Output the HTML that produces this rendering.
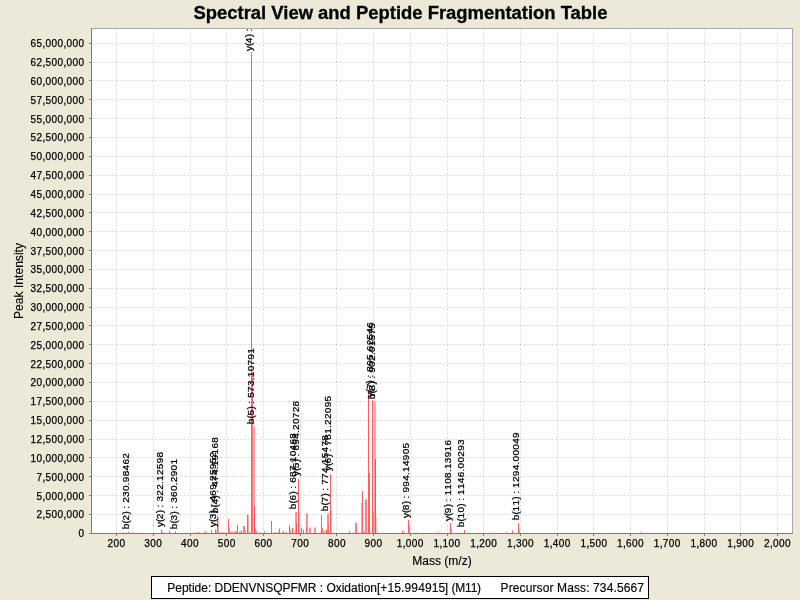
<!DOCTYPE html>
<html lang="en"><head><meta charset="utf-8"><title>Spectral View and Peptide Fragmentation Table</title>
<style>
html,body{margin:0;padding:0;background:#ece9d8;overflow:hidden}
svg{display:block;font-family:"Liberation Sans",Arial,sans-serif;fill:#000}
.t{font-size:10px;stroke:#000;stroke-width:.25px}.ax{font-size:12px;stroke:#000;stroke-width:.15px}.ttl{font-size:18px;font-weight:bold;stroke:#000;stroke-width:.3px}
.g{stroke:#c0c0c0;stroke-width:0.6;stroke-dasharray:2 2;fill:none}
.tk{stroke:#7f7f7f;stroke-width:1;shape-rendering:crispEdges}
.pk rect{fill:#ff0000}
</style></head><body>
<svg width="800" height="600" viewBox="0 0 800 600">
<rect x="0" y="0" width="800" height="600" fill="#ece9d8"/>
<text class="ttl" x="193.5" y="18.5" textLength="414" lengthAdjust="spacingAndGlyphs">Spectral View and Peptide Fragmentation Table</text>
<rect x="91" y="28" width="702" height="506" fill="#ffffff"/>
<g class="g">
<line x1="116.5" y1="28.5" x2="116.5" y2="533"/>
<line x1="153.5" y1="28.5" x2="153.5" y2="533"/>
<line x1="190.5" y1="28.5" x2="190.5" y2="533"/>
<line x1="226.5" y1="28.5" x2="226.5" y2="533"/>
<line x1="263.5" y1="28.5" x2="263.5" y2="533"/>
<line x1="300.5" y1="28.5" x2="300.5" y2="533"/>
<line x1="336.5" y1="28.5" x2="336.5" y2="533"/>
<line x1="373.5" y1="28.5" x2="373.5" y2="533"/>
<line x1="410.5" y1="28.5" x2="410.5" y2="533"/>
<line x1="447.5" y1="28.5" x2="447.5" y2="533"/>
<line x1="483.5" y1="28.5" x2="483.5" y2="533"/>
<line x1="520.5" y1="28.5" x2="520.5" y2="533"/>
<line x1="557.5" y1="28.5" x2="557.5" y2="533"/>
<line x1="593.5" y1="28.5" x2="593.5" y2="533"/>
<line x1="630.5" y1="28.5" x2="630.5" y2="533"/>
<line x1="667.5" y1="28.5" x2="667.5" y2="533"/>
<line x1="704.5" y1="28.5" x2="704.5" y2="533"/>
<line x1="740.5" y1="28.5" x2="740.5" y2="533"/>
<line x1="777.5" y1="28.5" x2="777.5" y2="533"/>
<line x1="91.5" y1="514.5" x2="792" y2="514.5"/>
<line x1="91.5" y1="495.5" x2="792" y2="495.5"/>
<line x1="91.5" y1="476.5" x2="792" y2="476.5"/>
<line x1="91.5" y1="457.5" x2="792" y2="457.5"/>
<line x1="91.5" y1="439.5" x2="792" y2="439.5"/>
<line x1="91.5" y1="420.5" x2="792" y2="420.5"/>
<line x1="91.5" y1="401.5" x2="792" y2="401.5"/>
<line x1="91.5" y1="382.5" x2="792" y2="382.5"/>
<line x1="91.5" y1="363.5" x2="792" y2="363.5"/>
<line x1="91.5" y1="344.5" x2="792" y2="344.5"/>
<line x1="91.5" y1="325.5" x2="792" y2="325.5"/>
<line x1="91.5" y1="307.5" x2="792" y2="307.5"/>
<line x1="91.5" y1="288.5" x2="792" y2="288.5"/>
<line x1="91.5" y1="269.5" x2="792" y2="269.5"/>
<line x1="91.5" y1="250.5" x2="792" y2="250.5"/>
<line x1="91.5" y1="231.5" x2="792" y2="231.5"/>
<line x1="91.5" y1="212.5" x2="792" y2="212.5"/>
<line x1="91.5" y1="194.5" x2="792" y2="194.5"/>
<line x1="91.5" y1="175.5" x2="792" y2="175.5"/>
<line x1="91.5" y1="156.5" x2="792" y2="156.5"/>
<line x1="91.5" y1="137.5" x2="792" y2="137.5"/>
<line x1="91.5" y1="118.5" x2="792" y2="118.5"/>
<line x1="91.5" y1="99.5" x2="792" y2="99.5"/>
<line x1="91.5" y1="80.5" x2="792" y2="80.5"/>
<line x1="91.5" y1="62.5" x2="792" y2="62.5"/>
<line x1="91.5" y1="43.5" x2="792" y2="43.5"/>
</g>
<g class="pk" shape-rendering="crispEdges">
<rect x="123" y="532" width="1" height="1" opacity="0.32"/>
<rect x="123" y="533" width="1" height="0" opacity="0.45"/>
<rect x="126" y="532" width="1" height="1" opacity="0.32"/>
<rect x="126" y="533" width="1" height="0" opacity="0.45"/>
<rect x="133" y="532" width="1" height="1" opacity="0.32"/>
<rect x="133" y="533" width="1" height="0" opacity="0.45"/>
<rect x="128" y="531" width="1" height="1" opacity="0.25"/>
<rect x="128" y="532" width="1" height="1" opacity="0.5"/>
<rect x="146" y="532" width="1" height="1" opacity="0.03"/>
<rect x="146" y="533" width="1" height="0" opacity="0.3"/>
<rect x="153" y="532" width="1" height="1" opacity="0.03"/>
<rect x="153" y="533" width="1" height="0" opacity="0.3"/>
<rect x="155" y="532" width="1" height="1" opacity="0.03"/>
<rect x="155" y="533" width="1" height="0" opacity="0.3"/>
<rect x="157" y="532" width="1" height="1" opacity="0.03"/>
<rect x="157" y="533" width="1" height="0" opacity="0.3"/>
<rect x="161" y="529" width="1" height="1" opacity="0.32"/>
<rect x="161" y="530" width="1" height="3" opacity="0.63"/>
<rect x="162" y="532" width="1" height="1" opacity="0.4"/>
<rect x="163" y="532" width="1" height="1" opacity="0.20"/>
<rect x="163" y="533" width="1" height="0" opacity="0.4"/>
<rect x="164" y="532" width="1" height="1" opacity="0.20"/>
<rect x="164" y="533" width="1" height="0" opacity="0.4"/>
<rect x="169" y="530" width="1" height="1" opacity="0.13"/>
<rect x="169" y="531" width="1" height="2" opacity="0.63"/>
<rect x="175" y="531" width="1" height="1" opacity="0.44"/>
<rect x="175" y="532" width="1" height="1" opacity="0.63"/>
<rect x="182" y="532" width="1" height="1" opacity="0.07"/>
<rect x="182" y="533" width="1" height="0" opacity="0.35"/>
<rect x="184" y="532" width="1" height="1" opacity="0.07"/>
<rect x="184" y="533" width="1" height="0" opacity="0.35"/>
<rect x="187" y="532" width="1" height="1" opacity="0.07"/>
<rect x="187" y="533" width="1" height="0" opacity="0.35"/>
<rect x="189" y="532" width="1" height="1" opacity="0.07"/>
<rect x="189" y="533" width="1" height="0" opacity="0.35"/>
<rect x="195" y="532" width="1" height="1" opacity="0.32"/>
<rect x="195" y="533" width="1" height="0" opacity="0.4"/>
<rect x="196" y="532" width="1" height="1" opacity="0.32"/>
<rect x="196" y="533" width="1" height="0" opacity="0.4"/>
<rect x="198" y="532" width="1" height="1" opacity="0.32"/>
<rect x="198" y="533" width="1" height="0" opacity="0.4"/>
<rect x="199" y="532" width="1" height="1" opacity="0.32"/>
<rect x="199" y="533" width="1" height="0" opacity="0.4"/>
<rect x="204" y="531" width="1" height="1" opacity="0.20"/>
<rect x="204" y="532" width="1" height="1" opacity="0.4"/>
<rect x="205" y="531" width="1" height="1" opacity="0.20"/>
<rect x="205" y="532" width="1" height="1" opacity="0.4"/>
<rect x="206" y="531" width="1" height="1" opacity="0.20"/>
<rect x="206" y="532" width="1" height="1" opacity="0.4"/>
<rect x="211" y="530" width="1" height="3" opacity="0.63"/>
<rect x="215" y="529" width="1" height="1" opacity="0.32"/>
<rect x="215" y="530" width="1" height="3" opacity="0.63"/>
<rect x="216" y="530" width="1" height="1" opacity="0.17"/>
<rect x="216" y="531" width="1" height="2" opacity="0.35"/>
<rect x="217" y="516" width="1" height="17" opacity="0.63"/>
<rect x="218" y="517" width="1" height="16" opacity="0.3"/>
<rect x="219" y="532" width="1" height="1" opacity="0.28"/>
<rect x="219" y="533" width="1" height="0" opacity="0.35"/>
<rect x="220" y="532" width="1" height="1" opacity="0.28"/>
<rect x="220" y="533" width="1" height="0" opacity="0.35"/>
<rect x="221" y="532" width="1" height="1" opacity="0.28"/>
<rect x="221" y="533" width="1" height="0" opacity="0.35"/>
<rect x="222" y="532" width="1" height="1" opacity="0.28"/>
<rect x="222" y="533" width="1" height="0" opacity="0.35"/>
<rect x="223" y="532" width="1" height="1" opacity="0.28"/>
<rect x="223" y="533" width="1" height="0" opacity="0.35"/>
<rect x="224" y="532" width="1" height="1" opacity="0.28"/>
<rect x="224" y="533" width="1" height="0" opacity="0.35"/>
<rect x="225" y="532" width="1" height="1" opacity="0.28"/>
<rect x="225" y="533" width="1" height="0" opacity="0.35"/>
<rect x="228" y="519" width="1" height="14" opacity="0.63"/>
<rect x="229" y="528" width="1" height="1" opacity="0.20"/>
<rect x="229" y="529" width="1" height="4" opacity="0.4"/>
<rect x="230" y="531" width="1" height="1" opacity="0.20"/>
<rect x="230" y="532" width="1" height="1" opacity="0.4"/>
<rect x="231" y="531" width="1" height="1" opacity="0.20"/>
<rect x="231" y="532" width="1" height="1" opacity="0.4"/>
<rect x="232" y="531" width="1" height="1" opacity="0.20"/>
<rect x="232" y="532" width="1" height="1" opacity="0.4"/>
<rect x="234" y="531" width="1" height="2" opacity="0.4"/>
<rect x="235" y="531" width="1" height="2" opacity="0.4"/>
<rect x="236" y="531" width="1" height="2" opacity="0.4"/>
<rect x="237" y="525" width="1" height="8" opacity="0.63"/>
<rect x="239" y="531" width="1" height="1" opacity="0.20"/>
<rect x="239" y="532" width="1" height="1" opacity="0.4"/>
<rect x="240" y="531" width="1" height="1" opacity="0.20"/>
<rect x="240" y="532" width="1" height="1" opacity="0.4"/>
<rect x="241" y="530" width="1" height="1" opacity="0.32"/>
<rect x="241" y="531" width="1" height="2" opacity="0.63"/>
<rect x="243" y="526" width="2" height="7" opacity="0.5"/>
<rect x="245" y="530" width="1" height="1" opacity="0.20"/>
<rect x="245" y="531" width="1" height="2" opacity="0.4"/>
<rect x="247" y="514" width="1" height="1" opacity="0.32"/>
<rect x="247" y="515" width="1" height="18" opacity="0.63"/>
<rect x="248" y="515" width="1" height="18" opacity="0.35"/>
<rect x="249" y="531" width="1" height="1" opacity="0.20"/>
<rect x="249" y="532" width="1" height="1" opacity="0.4"/>
<rect x="251" y="52" width="1" height="1" opacity="0.32"/>
<rect x="251" y="53" width="1" height="480" opacity="0.63"/>
<rect x="252" y="372" width="1" height="161" opacity="0.55"/>
<rect x="253" y="426" width="1" height="1" opacity="0.12"/>
<rect x="253" y="427" width="1" height="106" opacity="0.25"/>
<rect x="254" y="426" width="1" height="1" opacity="0.20"/>
<rect x="254" y="427" width="1" height="106" opacity="0.4"/>
<rect x="254" y="506" width="1" height="27" opacity="0.5"/>
<rect x="255" y="528" width="1" height="1" opacity="0.28"/>
<rect x="255" y="529" width="1" height="4" opacity="0.55"/>
<rect x="256" y="530" width="1" height="1" opacity="0.20"/>
<rect x="256" y="531" width="1" height="2" opacity="0.4"/>
<rect x="257" y="531" width="1" height="1" opacity="0.20"/>
<rect x="257" y="532" width="1" height="1" opacity="0.4"/>
<rect x="261" y="532" width="1" height="1" opacity="0.17"/>
<rect x="261" y="533" width="1" height="0" opacity="0.35"/>
<rect x="262" y="532" width="1" height="1" opacity="0.17"/>
<rect x="262" y="533" width="1" height="0" opacity="0.35"/>
<rect x="266" y="532" width="1" height="1" opacity="0.17"/>
<rect x="266" y="533" width="1" height="0" opacity="0.35"/>
<rect x="268" y="532" width="1" height="1" opacity="0.17"/>
<rect x="268" y="533" width="1" height="0" opacity="0.35"/>
<rect x="269" y="532" width="1" height="1" opacity="0.17"/>
<rect x="269" y="533" width="1" height="0" opacity="0.35"/>
<rect x="264" y="531" width="1" height="2" opacity="0.5"/>
<rect x="271" y="521" width="1" height="12" opacity="0.63"/>
<rect x="274" y="532" width="1" height="1" opacity="0.35"/>
<rect x="275" y="532" width="1" height="1" opacity="0.35"/>
<rect x="277" y="532" width="1" height="1" opacity="0.35"/>
<rect x="278" y="532" width="1" height="1" opacity="0.35"/>
<rect x="279" y="528" width="1" height="1" opacity="0.32"/>
<rect x="279" y="529" width="1" height="4" opacity="0.63"/>
<rect x="282" y="532" width="1" height="1" opacity="0.35"/>
<rect x="285" y="532" width="1" height="1" opacity="0.35"/>
<rect x="286" y="532" width="1" height="1" opacity="0.35"/>
<rect x="283" y="530" width="1" height="1" opacity="0.25"/>
<rect x="283" y="531" width="1" height="2" opacity="0.5"/>
<rect x="289" y="525" width="1" height="8" opacity="0.63"/>
<rect x="290" y="529" width="1" height="1" opacity="0.20"/>
<rect x="290" y="530" width="1" height="3" opacity="0.4"/>
<rect x="292" y="528" width="1" height="5" opacity="0.63"/>
<rect x="294" y="531" width="1" height="1" opacity="0.20"/>
<rect x="294" y="532" width="1" height="1" opacity="0.4"/>
<rect x="295" y="512" width="1" height="21" opacity="0.4"/>
<rect x="296" y="512" width="1" height="21" opacity="0.45"/>
<rect x="296" y="523" width="1" height="1" opacity="0.20"/>
<rect x="296" y="524" width="1" height="9" opacity="0.4"/>
<rect x="298" y="479" width="1" height="54" opacity="0.63"/>
<rect x="299" y="511" width="1" height="1" opacity="0.17"/>
<rect x="299" y="512" width="1" height="21" opacity="0.35"/>
<rect x="301" y="527" width="1" height="1" opacity="0.32"/>
<rect x="301" y="528" width="1" height="5" opacity="0.63"/>
<rect x="303" y="529" width="1" height="1" opacity="0.32"/>
<rect x="303" y="530" width="1" height="3" opacity="0.63"/>
<rect x="306" y="513" width="1" height="1" opacity="0.23"/>
<rect x="306" y="514" width="1" height="19" opacity="0.45"/>
<rect x="307" y="513" width="1" height="1" opacity="0.20"/>
<rect x="307" y="514" width="1" height="19" opacity="0.4"/>
<rect x="306" y="527" width="1" height="1" opacity="0.20"/>
<rect x="306" y="528" width="1" height="5" opacity="0.4"/>
<rect x="309" y="527" width="2" height="1" opacity="0.23"/>
<rect x="309" y="528" width="2" height="5" opacity="0.45"/>
<rect x="314" y="527" width="2" height="1" opacity="0.23"/>
<rect x="314" y="528" width="2" height="5" opacity="0.45"/>
<rect x="319" y="532" width="1" height="1" opacity="0.17"/>
<rect x="319" y="533" width="1" height="0" opacity="0.35"/>
<rect x="320" y="532" width="1" height="1" opacity="0.17"/>
<rect x="320" y="533" width="1" height="0" opacity="0.35"/>
<rect x="321" y="515" width="1" height="18" opacity="0.63"/>
<rect x="322" y="527" width="1" height="1" opacity="0.25"/>
<rect x="322" y="528" width="1" height="5" opacity="0.5"/>
<rect x="323" y="530" width="2" height="1" opacity="0.17"/>
<rect x="323" y="531" width="2" height="2" opacity="0.35"/>
<rect x="326" y="529" width="1" height="1" opacity="0.32"/>
<rect x="326" y="530" width="1" height="3" opacity="0.63"/>
<rect x="327" y="514" width="2" height="19" opacity="0.45"/>
<rect x="328" y="524" width="1" height="1" opacity="0.15"/>
<rect x="328" y="525" width="1" height="8" opacity="0.3"/>
<rect x="330" y="474" width="1" height="59" opacity="0.63"/>
<rect x="331" y="510" width="1" height="23" opacity="0.35"/>
<rect x="334" y="532" width="1" height="1" opacity="0.04"/>
<rect x="334" y="533" width="1" height="0" opacity="0.35"/>
<rect x="342" y="532" width="1" height="1" opacity="0.20"/>
<rect x="342" y="533" width="1" height="0" opacity="0.4"/>
<rect x="345" y="533" width="1" height="0" opacity="0.3"/>
<rect x="346" y="533" width="1" height="0" opacity="0.3"/>
<rect x="349" y="531" width="1" height="2" opacity="0.55"/>
<rect x="352" y="532" width="1" height="1" opacity="0.17"/>
<rect x="352" y="533" width="1" height="0" opacity="0.35"/>
<rect x="353" y="532" width="1" height="1" opacity="0.17"/>
<rect x="353" y="533" width="1" height="0" opacity="0.35"/>
<rect x="355" y="523" width="2" height="10" opacity="0.5"/>
<rect x="358" y="532" width="1" height="1" opacity="0.20"/>
<rect x="358" y="533" width="1" height="0" opacity="0.4"/>
<rect x="361" y="503" width="1" height="30" opacity="0.35"/>
<rect x="362" y="491" width="1" height="42" opacity="0.63"/>
<rect x="363" y="531" width="1" height="1" opacity="0.17"/>
<rect x="363" y="532" width="1" height="1" opacity="0.35"/>
<rect x="364" y="531" width="1" height="1" opacity="0.17"/>
<rect x="364" y="532" width="1" height="1" opacity="0.35"/>
<rect x="365" y="499" width="2" height="1" opacity="0.25"/>
<rect x="365" y="500" width="2" height="33" opacity="0.5"/>
<rect x="368" y="392" width="1" height="1" opacity="0.16"/>
<rect x="368" y="393" width="1" height="140" opacity="0.63"/>
<rect x="369" y="473" width="1" height="60" opacity="0.6"/>
<rect x="372" y="400" width="1" height="1" opacity="0.47"/>
<rect x="372" y="401" width="1" height="132" opacity="0.63"/>
<rect x="373" y="512" width="1" height="21" opacity="0.4"/>
<rect x="374" y="401" width="1" height="1" opacity="0.19"/>
<rect x="374" y="402" width="1" height="131" opacity="0.38"/>
<rect x="375" y="401" width="1" height="1" opacity="0.17"/>
<rect x="375" y="402" width="1" height="131" opacity="0.33"/>
<rect x="375" y="459" width="1" height="74" opacity="0.55"/>
<rect x="376" y="517" width="1" height="1" opacity="0.12"/>
<rect x="376" y="518" width="1" height="15" opacity="0.25"/>
<rect x="383" y="532" width="1" height="1" opacity="0.12"/>
<rect x="383" y="533" width="1" height="0" opacity="0.4"/>
<rect x="386" y="532" width="1" height="1" opacity="0.12"/>
<rect x="386" y="533" width="1" height="0" opacity="0.4"/>
<rect x="397" y="533" width="1" height="0" opacity="0.3"/>
<rect x="398" y="533" width="1" height="0" opacity="0.3"/>
<rect x="399" y="533" width="1" height="0" opacity="0.3"/>
<rect x="402" y="530" width="1" height="1" opacity="0.32"/>
<rect x="402" y="531" width="1" height="2" opacity="0.63"/>
<rect x="403" y="532" width="1" height="1" opacity="0.20"/>
<rect x="403" y="533" width="1" height="0" opacity="0.4"/>
<rect x="404" y="532" width="1" height="1" opacity="0.20"/>
<rect x="404" y="533" width="1" height="0" opacity="0.4"/>
<rect x="408" y="520" width="1" height="13" opacity="0.63"/>
<rect x="409" y="526" width="1" height="1" opacity="0.25"/>
<rect x="409" y="527" width="1" height="6" opacity="0.5"/>
<rect x="416" y="532" width="1" height="1" opacity="0.20"/>
<rect x="416" y="533" width="1" height="0" opacity="0.4"/>
<rect x="438" y="532" width="1" height="1" opacity="0.5"/>
<rect x="445" y="532" width="1" height="1" opacity="0.20"/>
<rect x="445" y="533" width="1" height="0" opacity="0.4"/>
<rect x="450" y="523" width="1" height="10" opacity="0.63"/>
<rect x="451" y="529" width="1" height="1" opacity="0.25"/>
<rect x="451" y="530" width="1" height="3" opacity="0.5"/>
<rect x="457" y="532" width="1" height="1" opacity="0.20"/>
<rect x="457" y="533" width="1" height="0" opacity="0.4"/>
<rect x="459" y="532" width="1" height="1" opacity="0.20"/>
<rect x="459" y="533" width="1" height="0" opacity="0.4"/>
<rect x="464" y="530" width="1" height="3" opacity="0.63"/>
<rect x="480" y="533" width="1" height="0" opacity="0.3"/>
<rect x="489" y="532" width="1" height="1" opacity="0.20"/>
<rect x="489" y="533" width="1" height="0" opacity="0.4"/>
<rect x="494" y="532" width="1" height="1" opacity="0.20"/>
<rect x="494" y="533" width="1" height="0" opacity="0.4"/>
<rect x="499" y="532" width="1" height="1" opacity="0.20"/>
<rect x="499" y="533" width="1" height="0" opacity="0.4"/>
<rect x="506" y="532" width="1" height="1" opacity="0.5"/>
<rect x="512" y="530" width="1" height="1" opacity="0.32"/>
<rect x="512" y="531" width="1" height="2" opacity="0.63"/>
<rect x="518" y="523" width="1" height="10" opacity="0.63"/>
<rect x="519" y="529" width="1" height="1" opacity="0.20"/>
<rect x="519" y="530" width="1" height="3" opacity="0.4"/>
<rect x="640" y="532" width="1" height="1" opacity="0.5"/>
<rect x="726" y="533" width="1" height="0" opacity="0.5"/>
</g>
<svg x="92" y="28.6" width="700" height="504.4" viewBox="92 28.6 700 504.4" overflow="hidden"><g class="t" style="stroke-width:.25px">
<text transform="translate(129 529.25) rotate(-90) scale(1 .96)" x="0.00 5.88 8.82 14.70 17.64 20.58 23.52 26.46 32.34 38.22 44.10 47.04 52.92 58.80 64.68 70.56">b(2) : 230.98462</text>
<text transform="translate(162.8 527) rotate(-90) scale(1 .96)" x="0.00 4.90 7.84 13.72 16.66 19.60 22.54 25.48 31.36 37.24 43.12 46.06 51.94 57.82 63.70 69.58">y(2) : 322.12598</text>
<text transform="translate(176.8 529.25) rotate(-90) scale(1 .96)" x="0.00 5.88 8.82 14.70 17.64 20.58 23.52 26.46 32.34 38.22 44.10 47.04 52.92 58.80 64.68">b(3) : 360.2901</text>
<text transform="translate(216 527) rotate(-90) scale(1 .96)" x="0.00 4.90 7.84 13.72 16.66 19.60 22.54 25.48 31.36 37.24 43.12 46.06 51.94 57.82 63.70 69.58">y(3) : 469.25952</text>
<text transform="translate(218 513.25) rotate(-90) scale(1 .96)" x="0.00 5.88 8.82 14.70 17.64 20.58 23.52 26.46 32.34 38.22 44.10 47.04 52.92 58.80 64.68 70.56">b(4) : 474.19168</text>
<text transform="translate(252 51) rotate(-90) scale(1 .96)" x="0.00 4.90 7.84 13.72 16.66 19.60 22.54 25.48 31.36 37.24 43.12 46.06 51.94 57.82 63.70 69.58">y(4) : 566.30728</text>
<text transform="translate(254 424.25) rotate(-90) scale(1 .96)" x="0.00 5.88 8.82 14.70 17.64 20.58 23.52 26.46 32.34 38.22 44.10 47.04 52.92 58.80 64.68 70.56">b(5) : 573.10791</text>
<text transform="translate(296 509.25) rotate(-90) scale(1 .96)" x="0.00 5.88 8.82 14.70 17.64 20.58 23.52 26.46 32.34 38.22 44.10 47.04 52.92 58.80 64.68 70.56">b(6) : 687.10468</text>
<text transform="translate(299 476) rotate(-90) scale(1 .96)" x="0.00 4.90 7.84 13.72 16.66 19.60 22.54 25.48 31.36 37.24 43.12 46.06 51.94 57.82 63.70 69.58">y(5) : 694.20728</text>
<text transform="translate(328 511.25) rotate(-90) scale(1 .96)" x="0.00 5.88 8.82 14.70 17.64 20.58 23.52 26.46 32.34 38.22 44.10 47.04 52.92 58.80 64.68 70.56">b(7) : 774.15478</text>
<text transform="translate(331 471) rotate(-90) scale(1 .96)" x="0.00 4.90 7.84 13.72 16.66 19.60 22.54 25.48 31.36 37.24 43.12 46.06 51.94 57.82 63.70 69.58">y(6) : 781.22095</text>
<text transform="translate(373 397.2) rotate(-90) scale(1 .96)" x="0.00 4.90 7.84 13.72 16.66 19.60 22.54 25.48 31.36 37.24 43.12 46.06 51.94 57.82 63.70 69.58">y(7) : 895.62546</text>
<text transform="translate(375 399.25) rotate(-90) scale(1 .96)" x="0.00 5.88 8.82 14.70 17.64 20.58 23.52 26.46 32.34 38.22 44.10 47.04 52.92 58.80 64.68 70.56">b(8) : 902.01575</text>
<text transform="translate(409 518) rotate(-90) scale(1 .96)" x="0.00 4.90 7.84 13.72 16.66 19.60 22.54 25.48 31.36 37.24 43.12 46.06 51.94 57.82 63.70 69.58">y(8) : 994.14905</text>
<text transform="translate(451 521) rotate(-90) scale(1 .96)" x="0.00 4.90 7.84 13.72 16.66 19.60 22.54 25.48 31.36 37.24 43.12 49.00 51.94 57.82 63.70 69.58 75.46">y(9) : 1108.13916</text>
<text transform="translate(464 527.25) rotate(-90) scale(1 .96)" x="0.00 5.88 8.82 14.70 20.58 23.52 26.46 29.40 32.34 38.22 44.10 49.98 55.86 58.80 64.68 70.56 76.44 82.32">b(10) : 1146.00293</text>
<text transform="translate(519 520.25) rotate(-90) scale(1 .96)" x="0.00 5.88 8.82 14.70 20.58 23.52 26.46 29.40 32.34 38.22 44.10 49.98 55.86 58.80 64.68 70.56 76.44 82.32">b(11) : 1294.00049</text>
</g></svg>
<g shape-rendering="crispEdges" fill="none">
<rect x="91.5" y="28.5" width="701" height="505" stroke="#aaaaa2" stroke-width="1"/>
<line x1="91.5" y1="28" x2="91.5" y2="534" stroke="#7b7b78"/>
<line x1="91" y1="533.5" x2="793" y2="533.5" stroke="#7b7b78"/>
</g>
<g class="tk">
<line x1="116.5" y1="534" x2="116.5" y2="536"/>
<line x1="153.5" y1="534" x2="153.5" y2="536"/>
<line x1="190.5" y1="534" x2="190.5" y2="536"/>
<line x1="226.5" y1="534" x2="226.5" y2="536"/>
<line x1="263.5" y1="534" x2="263.5" y2="536"/>
<line x1="300.5" y1="534" x2="300.5" y2="536"/>
<line x1="336.5" y1="534" x2="336.5" y2="536"/>
<line x1="373.5" y1="534" x2="373.5" y2="536"/>
<line x1="410.5" y1="534" x2="410.5" y2="536"/>
<line x1="447.5" y1="534" x2="447.5" y2="536"/>
<line x1="483.5" y1="534" x2="483.5" y2="536"/>
<line x1="520.5" y1="534" x2="520.5" y2="536"/>
<line x1="557.5" y1="534" x2="557.5" y2="536"/>
<line x1="593.5" y1="534" x2="593.5" y2="536"/>
<line x1="630.5" y1="534" x2="630.5" y2="536"/>
<line x1="667.5" y1="534" x2="667.5" y2="536"/>
<line x1="704.5" y1="534" x2="704.5" y2="536"/>
<line x1="740.5" y1="534" x2="740.5" y2="536"/>
<line x1="777.5" y1="534" x2="777.5" y2="536"/>
<line x1="89" y1="533.5" x2="91" y2="533.5"/>
<line x1="89" y1="514.5" x2="91" y2="514.5"/>
<line x1="89" y1="495.5" x2="91" y2="495.5"/>
<line x1="89" y1="476.5" x2="91" y2="476.5"/>
<line x1="89" y1="457.5" x2="91" y2="457.5"/>
<line x1="89" y1="439.5" x2="91" y2="439.5"/>
<line x1="89" y1="420.5" x2="91" y2="420.5"/>
<line x1="89" y1="401.5" x2="91" y2="401.5"/>
<line x1="89" y1="382.5" x2="91" y2="382.5"/>
<line x1="89" y1="363.5" x2="91" y2="363.5"/>
<line x1="89" y1="344.5" x2="91" y2="344.5"/>
<line x1="89" y1="325.5" x2="91" y2="325.5"/>
<line x1="89" y1="307.5" x2="91" y2="307.5"/>
<line x1="89" y1="288.5" x2="91" y2="288.5"/>
<line x1="89" y1="269.5" x2="91" y2="269.5"/>
<line x1="89" y1="250.5" x2="91" y2="250.5"/>
<line x1="89" y1="231.5" x2="91" y2="231.5"/>
<line x1="89" y1="212.5" x2="91" y2="212.5"/>
<line x1="89" y1="194.5" x2="91" y2="194.5"/>
<line x1="89" y1="175.5" x2="91" y2="175.5"/>
<line x1="89" y1="156.5" x2="91" y2="156.5"/>
<line x1="89" y1="137.5" x2="91" y2="137.5"/>
<line x1="89" y1="118.5" x2="91" y2="118.5"/>
<line x1="89" y1="99.5" x2="91" y2="99.5"/>
<line x1="89" y1="80.5" x2="91" y2="80.5"/>
<line x1="89" y1="62.5" x2="91" y2="62.5"/>
<line x1="89" y1="43.5" x2="91" y2="43.5"/>
</g>
<g class="t">
<text x="78.5" y="536.85">0</text>
<text x="36.5 42.5 45.5 51.5 57.5 63.5 66.5 72.5 78.5" y="517.85">2,500,000</text>
<text x="36.5 42.5 45.5 51.5 57.5 63.5 66.5 72.5 78.5" y="499.85">5,000,000</text>
<text x="36.5 42.5 45.5 51.5 57.5 63.5 66.5 72.5 78.5" y="480.85">7,500,000</text>
<text x="30.5 36.5 42.5 45.5 51.5 57.5 63.5 66.5 72.5 78.5" y="461.85">10,000,000</text>
<text x="30.5 36.5 42.5 45.5 51.5 57.5 63.5 66.5 72.5 78.5" y="442.85">12,500,000</text>
<text x="30.5 36.5 42.5 45.5 51.5 57.5 63.5 66.5 72.5 78.5" y="423.85">15,000,000</text>
<text x="30.5 36.5 42.5 45.5 51.5 57.5 63.5 66.5 72.5 78.5" y="404.85">17,500,000</text>
<text x="30.5 36.5 42.5 45.5 51.5 57.5 63.5 66.5 72.5 78.5" y="385.85">20,000,000</text>
<text x="30.5 36.5 42.5 45.5 51.5 57.5 63.5 66.5 72.5 78.5" y="367.85">22,500,000</text>
<text x="30.5 36.5 42.5 45.5 51.5 57.5 63.5 66.5 72.5 78.5" y="348.85">25,000,000</text>
<text x="30.5 36.5 42.5 45.5 51.5 57.5 63.5 66.5 72.5 78.5" y="329.85">27,500,000</text>
<text x="30.5 36.5 42.5 45.5 51.5 57.5 63.5 66.5 72.5 78.5" y="310.85">30,000,000</text>
<text x="30.5 36.5 42.5 45.5 51.5 57.5 63.5 66.5 72.5 78.5" y="291.85">32,500,000</text>
<text x="30.5 36.5 42.5 45.5 51.5 57.5 63.5 66.5 72.5 78.5" y="272.85">35,000,000</text>
<text x="30.5 36.5 42.5 45.5 51.5 57.5 63.5 66.5 72.5 78.5" y="254.85">37,500,000</text>
<text x="30.5 36.5 42.5 45.5 51.5 57.5 63.5 66.5 72.5 78.5" y="235.85">40,000,000</text>
<text x="30.5 36.5 42.5 45.5 51.5 57.5 63.5 66.5 72.5 78.5" y="216.85">42,500,000</text>
<text x="30.5 36.5 42.5 45.5 51.5 57.5 63.5 66.5 72.5 78.5" y="197.85">45,000,000</text>
<text x="30.5 36.5 42.5 45.5 51.5 57.5 63.5 66.5 72.5 78.5" y="178.85">47,500,000</text>
<text x="30.5 36.5 42.5 45.5 51.5 57.5 63.5 66.5 72.5 78.5" y="159.85">50,000,000</text>
<text x="30.5 36.5 42.5 45.5 51.5 57.5 63.5 66.5 72.5 78.5" y="140.85">52,500,000</text>
<text x="30.5 36.5 42.5 45.5 51.5 57.5 63.5 66.5 72.5 78.5" y="122.85">55,000,000</text>
<text x="30.5 36.5 42.5 45.5 51.5 57.5 63.5 66.5 72.5 78.5" y="103.85">57,500,000</text>
<text x="30.5 36.5 42.5 45.5 51.5 57.5 63.5 66.5 72.5 78.5" y="84.85">60,000,000</text>
<text x="30.5 36.5 42.5 45.5 51.5 57.5 63.5 66.5 72.5 78.5" y="65.85">62,500,000</text>
<text x="30.5 36.5 42.5 45.5 51.5 57.5 63.5 66.5 72.5 78.5" y="46.85">65,000,000</text>
</g>
<g class="t">
<text x="107.6 113.6 119.6" y="547">200</text>
<text x="144.31 150.31 156.31" y="547">300</text>
<text x="181.03 187.03 193.03" y="547">400</text>
<text x="217.75 223.75 229.75" y="547">500</text>
<text x="254.46 260.46 266.46" y="547">600</text>
<text x="291.17 297.17 303.17" y="547">700</text>
<text x="327.89 333.89 339.89" y="547">800</text>
<text x="364.61 370.61 376.61" y="547">900</text>
<text x="396.82 402.82 405.82 411.82 417.82" y="547">1,000</text>
<text x="433.53 439.53 442.53 448.53 454.53" y="547">1,100</text>
<text x="470.25 476.25 479.25 485.25 491.25" y="547">1,200</text>
<text x="506.96 512.96 515.96 521.96 527.96" y="547">1,300</text>
<text x="543.68 549.68 552.68 558.68 564.68" y="547">1,400</text>
<text x="580.39 586.39 589.39 595.39 601.39" y="547">1,500</text>
<text x="617.11 623.11 626.11 632.11 638.11" y="547">1,600</text>
<text x="653.82 659.82 662.82 668.82 674.82" y="547">1,700</text>
<text x="690.54 696.54 699.54 705.54 711.54" y="547">1,800</text>
<text x="727.25 733.25 736.25 742.25 748.25" y="547">1,900</text>
<text x="763.97 769.97 772.97 778.97 784.97" y="547">2,000</text>
</g>
<text class="ax" text-anchor="middle" x="442" y="565">Mass (m/z)</text>
<text class="ax" text-anchor="middle" transform="translate(23 281) rotate(-90)" textLength="76" lengthAdjust="spacing">Peak Intensity</text>
<rect x="151.5" y="576.5" width="497" height="22" fill="#ffffff" stroke="#000000" stroke-width="1" shape-rendering="crispEdges"/>
<text class="ax" y="592"><tspan x="167.3" textLength="213" lengthAdjust="spacing">Peptide: DDENVNSQPFMR : Oxidation[</tspan><tspan x="380.3" textLength="65" lengthAdjust="spacing">+15.994915</tspan><tspan x="444.8">] </tspan><tspan x="451.6" textLength="29.5" lengthAdjust="spacing">(M11)</tspan></text>
<text class="ax" x="500.5" y="592" textLength="143.5" lengthAdjust="spacing">Precursor Mass: 734.5667</text>
</svg></body></html>
